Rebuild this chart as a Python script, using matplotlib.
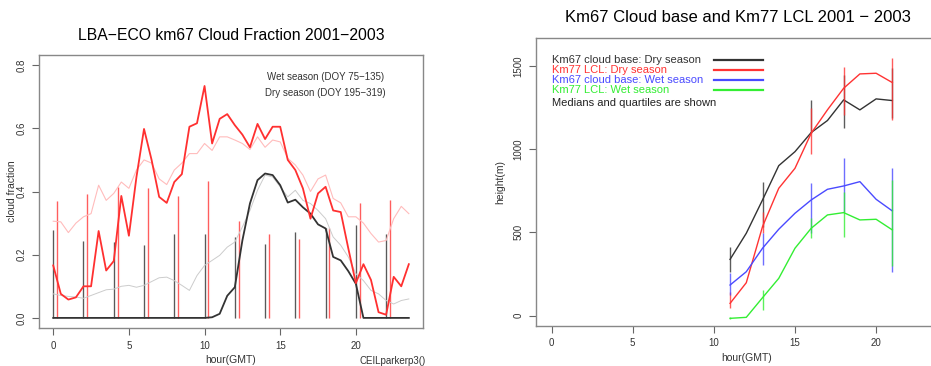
import numpy as np
import matplotlib
matplotlib.use("Agg")
import matplotlib.pyplot as plt

plt.rcParams["font.family"] = ["Liberation Sans", "DejaVu Sans"]

# left panel: half-hourly cloud fraction
hours_cf = np.arange(0, 24, 0.5)
dry_cf = [0.166, 0.076, 0.058, 0.065, 0.10, 0.10, 0.275, 0.15, 0.18, 0.386,
          0.26, 0.446, 0.598, 0.50, 0.383, 0.364, 0.43, 0.455, 0.605, 0.616,
          0.734, 0.552, 0.63, 0.645, 0.61, 0.58, 0.54, 0.614, 0.566, 0.605,
          0.605, 0.50, 0.468, 0.41, 0.314, 0.394, 0.415, 0.34, 0.335, 0.22,
          0.11, 0.17, 0.12, 0.018, 0.01, 0.13, 0.10, 0.17]
dry_cf_smooth = [0.306, 0.304, 0.27, 0.30, 0.32, 0.33, 0.42, 0.372, 0.394, 0.43,
                 0.41, 0.468, 0.50, 0.49, 0.44, 0.422, 0.468, 0.49, 0.52, 0.52,
                 0.552, 0.53, 0.573, 0.573, 0.563, 0.552, 0.533, 0.573, 0.54, 0.563,
                 0.557, 0.505, 0.484, 0.452, 0.40, 0.44, 0.452, 0.378, 0.364, 0.32,
                 0.32, 0.30, 0.267, 0.24, 0.245, 0.314, 0.353, 0.33]
wet_cf = [0, 0, 0, 0, 0, 0, 0, 0, 0, 0,
          0, 0, 0, 0, 0, 0, 0, 0, 0, 0,
          0, 0.002, 0.013, 0.07, 0.097, 0.245, 0.362, 0.436, 0.457, 0.452,
          0.42, 0.365, 0.374, 0.35, 0.33, 0.296, 0.283, 0.193, 0.182, 0.148,
          0.108, 0.0, 0, 0, 0, 0, 0, 0]
wet_cf_smooth = [0.076, 0.071, 0.068, 0.066, 0.062, 0.071, 0.08, 0.089, 0.091, 0.10,
                 0.103, 0.097, 0.103, 0.115, 0.127, 0.129, 0.118, 0.103, 0.087, 0.134,
                 0.166, 0.182, 0.198, 0.224, 0.24, 0.288, 0.34, 0.404, 0.452, 0.446,
                 0.415, 0.383, 0.404, 0.372, 0.362, 0.34, 0.314, 0.256, 0.23, 0.193,
                 0.14, 0.118, 0.087, 0.076, 0.055, 0.044, 0.055, 0.06]

bar_hours = [0, 2, 4, 6, 8, 10, 12, 14, 16, 18, 20, 22]
black_bars = [0.279, 0.243, 0.24, 0.232, 0.267, 0.267, 0.256, 0.233, 0.272, 0.286, 0.293, 0.267]
red_bars = [0.369, 0.391, 0.413, 0.41, 0.385, 0.433, 0.307, 0.264, 0.251, 0.286, 0.364, 0.372]

# right panel: cloud base and LCL medians / quartiles
hours_cb = [11, 12, 13, 14, 15, 16, 17, 18, 19, 20, 21]
cb_dry = [338, 495, 695, 901, 985, 1100, 1172, 1296, 1236, 1302, 1292]
lcl_dry = [74, 198, 535, 765, 885, 1096, 1236, 1366, 1452, 1456, 1400]
cb_wet = [184, 264, 405, 519, 615, 695, 759, 779, 805, 699, 629]
lcl_wet = [-16, -10, 108, 224, 405, 525, 605, 619, 575, 579, 515]

q_hours = [11, 13, 16, 18, 21]
cb_dry_q = [(264, 415), (535, 805), (1096, 1296), (1126, 1446), (1186, 1486)]
lcl_dry_q = [(46, 144), (495, 625), (971, 1246), (1206, 1496), (1176, 1546)]
cb_wet_q = [(124, 256), (304, 495), (495, 795), (625, 945), (264, 885)]
lcl_wet_q = [(-22, -8), (34, 154), (465, 585), (475, 745), (300, 815)]

legend_labels = ["Km67 cloud base: Dry season", "Km77 LCL: Dry season",
                 "Km67 cloud base: Wet season", "Km77 LCL: Wet season"]
legend_colors = ["#333333", "#ff3333", "#4a4aff", "#33ee33"]


def style_axes(ax):
    for s in ax.spines.values():
        s.set_color("#888888")
        s.set_linewidth(1.0)
    ax.tick_params(direction="out", length=5, width=0.8, color="#666666",
                   labelsize=7, labelcolor="#333333", pad=4)
    for lab in ax.get_yticklabels():
        lab.set_rotation(90)
        lab.set_va("center")


fig = plt.figure(figsize=(9.31, 3.66), dpi=100)

# ---- left
ax = fig.add_axes([0.0419, 0.1038, 0.4125, 0.7459])
ax.vlines(bar_hours, 0, black_bars, color="#e2e2e2", lw=2.2)
ax.vlines(bar_hours, 0, black_bars, color="#555555", lw=0.7)
rb = [h + 0.25 for h in bar_hours]
ax.vlines(rb, 0, red_bars, color="#ffe0e0", lw=2.2)
ax.vlines(rb, 0, red_bars, color="#ff5a5a", lw=0.7)
ax.plot(hours_cf, wet_cf_smooth, color="#cccccc", lw=0.7)
ax.plot(hours_cf, dry_cf_smooth, color="#ffbcbc", lw=0.8)
ax.plot(hours_cf, wet_cf, color="#333333", lw=1.3)
ax.plot(hours_cf, dry_cf, color="#ff3030", lw=1.3)
ax.set_xlim(-0.94, 24.44)
ax.set_ylim(-0.032, 0.832)
ax.set_xticks([0, 5, 10, 15, 20])
ax.set_yticks([0.0, 0.2, 0.4, 0.6, 0.8])
ax.set_yticklabels(["0.0", "0.2", "0.4", "0.6", "0.8"])
style_axes(ax)
ax.text(0.745, 0.918, "Wet season (DOY 75\u2212135)", transform=ax.transAxes,
        ha="center", va="center", fontsize=7, color="#333333")
ax.text(0.745, 0.86, "Dry season (DOY 195\u2212319)", transform=ax.transAxes,
        ha="center", va="center", fontsize=7, color="#333333")
ax.set_xlabel("hour(GMT)", fontsize=7.5, color="#333333", labelpad=3)
ax.set_ylabel("cloud fraction", fontsize=7.5, color="#333333", labelpad=0)
fig.text(231 / 931, 1 - 35 / 366, "LBA\u2212ECO km67 Cloud Fraction 2001\u22122003",
         ha="center", va="center", fontsize=11.3)
fig.text(360 / 931, 1 - 361 / 366, "CEILparkerp3()", ha="left", va="center",
         fontsize=7, color="#333333")

# ---- right
ax2 = fig.add_axes([0.5757, 0.1093, 0.4518, 0.787])
series = [(cb_dry, cb_dry_q), (lcl_dry, lcl_dry_q), (cb_wet, cb_wet_q), (lcl_wet, lcl_wet_q)]
for (vals, q), col in zip(series, legend_colors):
    lo = [a for a, b in q]
    hi = [b for a, b in q]
    ax2.vlines(q_hours, lo, hi, color=col, lw=1.0, alpha=0.8)
    ax2.plot(hours_cb, vals, color=col, lw=1.0)
ax2.set_xlim(-0.96, 24.96)
ax2.set_ylim(-62, 1668)
ax2.set_xticks([0, 5, 10, 15, 20])
ax2.set_yticks([0, 500, 1000, 1500])
style_axes(ax2)
ax2.set_xlabel("hour(GMT)", fontsize=7.5, color="#333333", labelpad=3)
ax2.set_ylabel("height(m)", fontsize=7.5, color="#333333", labelpad=6)
leg_y = [1535, 1475, 1415, 1355]
for lab, col, yy in zip(legend_labels, legend_colors, leg_y):
    ax2.text(0.0, yy, lab, color=col, fontsize=8, ha="left", va="center")
    ax2.plot([10.0, 13.0], [yy, yy], color=col, lw=1.6)
ax2.text(0.0, 1275, "Medians and quartiles are shown", color="#222222",
         fontsize=8, ha="left", va="center")
fig.text(738 / 931, 1 - 17 / 366, "Km67 Cloud base and Km77 LCL 2001 \u2212 2003",
         ha="center", va="center", fontsize=12)

fig.savefig("out.png", dpi=100)
